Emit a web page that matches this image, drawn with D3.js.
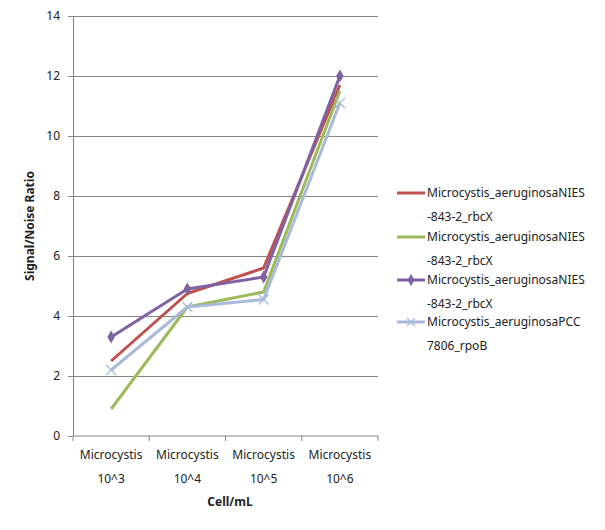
<!DOCTYPE html>
<html><head><meta charset="utf-8">
<script src="https://cdn.jsdelivr.net/npm/d3@7"></script>
<style>body{margin:0;background:#fff;} text{font-family:"Noto Sans","DejaVu Sans",sans-serif;}</style>
</head><body><svg id="c" width="605" height="530"></svg>
<script>
const categories = ["10^3","10^4","10^5","10^6"];
const yTicks = [0,2,4,6,8,10,12,14];
const seriesNames = ["Microcystis_aeruginosaNIES-843-2_rbcX","Microcystis_aeruginosaNIES-843-2_rbcX","Microcystis_aeruginosaNIES-843-2_rbcX","Microcystis_aeruginosaPCC7806_rpoB"];
const legendLines = [["Microcystis_aeruginosaNIES","-843-2_rbcX"],["Microcystis_aeruginosaNIES","-843-2_rbcX"],["Microcystis_aeruginosaNIES","-843-2_rbcX"],["Microcystis_aeruginosaPCC","7806_rpoB"]];
const redValues = [2.5, 4.75, 5.6, 11.7];
const greenValues = [0.9, 4.3, 4.8, 11.5];
const purpleValues = [3.3, 4.9, 5.3, 12.0];
const blueValues = [2.2, 4.3, 4.55, 11.1];
const colors = ["#C0504D","#9BBB59","#7F62A2","#A8BADA"];
const markers = ["none","none","diamond","x"];
const series = [redValues, greenValues, purpleValues, blueValues];

const svg = d3.select("#c");
const m = {l:73, r:378, t:16, b:436};
const x = d3.scaleBand().domain(categories).range([m.l, m.r]);
const y = d3.scaleLinear().domain([0,14]).range([m.b, m.t]);
const grid = "#868686";

// gridlines
svg.append("g").selectAll("line").data(yTicks.slice(1)).join("line")
  .attr("x1", m.l).attr("x2", m.r).attr("y1", d=>y(d)).attr("y2", d=>y(d))
  .attr("stroke", grid).attr("stroke-width",1).attr("shape-rendering","crispEdges");

// y axis
const ya = svg.append("g").attr("transform",`translate(${m.l},0)`)
  .call(d3.axisLeft(y).tickValues(yTicks).tickSize(5).tickPadding(8).tickFormat(d3.format("d")));
ya.select(".domain").attr("stroke",grid);
ya.selectAll(".tick line").attr("stroke",grid);
ya.selectAll("text").attr("font-size","12px").attr("fill","#222").style("font-family","'Noto Sans',sans-serif");

// x axis
const xa = svg.append("g").attr("transform",`translate(0,${m.b})`);
xa.append("line").attr("x1",m.l).attr("x2",m.r).attr("y1",0).attr("y2",0).attr("stroke",grid);
const edges = categories.map(c=>x(c)).concat([x(categories[categories.length-1])+x.bandwidth()]);
xa.selectAll(".tk").data(edges).join("line").attr("class","tk")
  .attr("x1",d=>d).attr("x2",d=>d).attr("y1",0).attr("y2",5).attr("stroke",grid);
const xl = xa.selectAll(".lab").data(categories).join("text").attr("class","lab")
  .attr("text-anchor","middle").attr("font-size","12px").attr("fill","#222")
  .attr("x", d=>x(d)+x.bandwidth()/2);
xl.append("tspan").attr("x", d=>x(d)+x.bandwidth()/2).attr("y",23).text("Microcystis");
xl.append("tspan").attr("x", d=>x(d)+x.bandwidth()/2).attr("y",47).text(d=>d);

// axis titles
svg.append("text").attr("x",230).attr("y",506).attr("text-anchor","middle")
  .attr("font-size","12px").attr("font-weight","bold").attr("fill","#222").text("Cell/mL");
svg.append("text").attr("transform","translate(34,226) rotate(-90)").attr("text-anchor","middle")
  .attr("font-size","12px").attr("font-weight","bold").attr("fill","#222").text("Signal/Noise Ratio");

// lines
const line = d3.line().x((d,i)=>x(categories[i])+x.bandwidth()/2).y(d=>y(d));
series.forEach((vals,si)=>{
  const g = svg.append("g");
  g.append("path").datum(vals).attr("d",line).attr("fill","none")
    .attr("stroke",colors[si]).attr("stroke-width",3).attr("stroke-linejoin","round");
  vals.forEach((v,i)=>{
    const cx = x(categories[i])+x.bandwidth()/2, cy = y(v);
    if(markers[si]==="diamond"){
      g.append("path").attr("d",d3.symbol(d3.symbolDiamond,50)()).attr("transform",`translate(${cx},${cy})`).attr("fill",colors[si]);
    } else if(markers[si]==="x"){
      g.append("path").attr("d",`M-5,-5L5,5M-5,5L5,-5`).attr("transform",`translate(${cx},${cy})`).attr("stroke",colors[si]).attr("stroke-width",1.2);
    }
  });
});

// legend
const lg = svg.append("g");
const ly = [193,237,280,322];
legendLines.forEach((ls,i)=>{
  lg.append("line").attr("x1",397).attr("x2",425).attr("y1",ly[i]).attr("y2",ly[i]).attr("stroke",colors[i]).attr("stroke-width",3);
  if(markers[i]==="diamond") lg.append("path").attr("d",d3.symbol(d3.symbolDiamond,40)()).attr("transform",`translate(411,${ly[i]})`).attr("fill",colors[i]);
  if(markers[i]==="x") lg.append("path").attr("d","M-4,-4L4,4M-4,4L4,-4").attr("transform",`translate(411,${ly[i]})`).attr("stroke",colors[i]).attr("stroke-width",1.2);
  lg.append("text").attr("x",427).attr("y",ly[i]+4).attr("font-size","12px").attr("fill","#222").text(ls[0]);
  lg.append("text").attr("x",427).attr("y",ly[i]+28).attr("font-size","12px").attr("fill","#222").text(ls[1]);
});
</script></body></html>
